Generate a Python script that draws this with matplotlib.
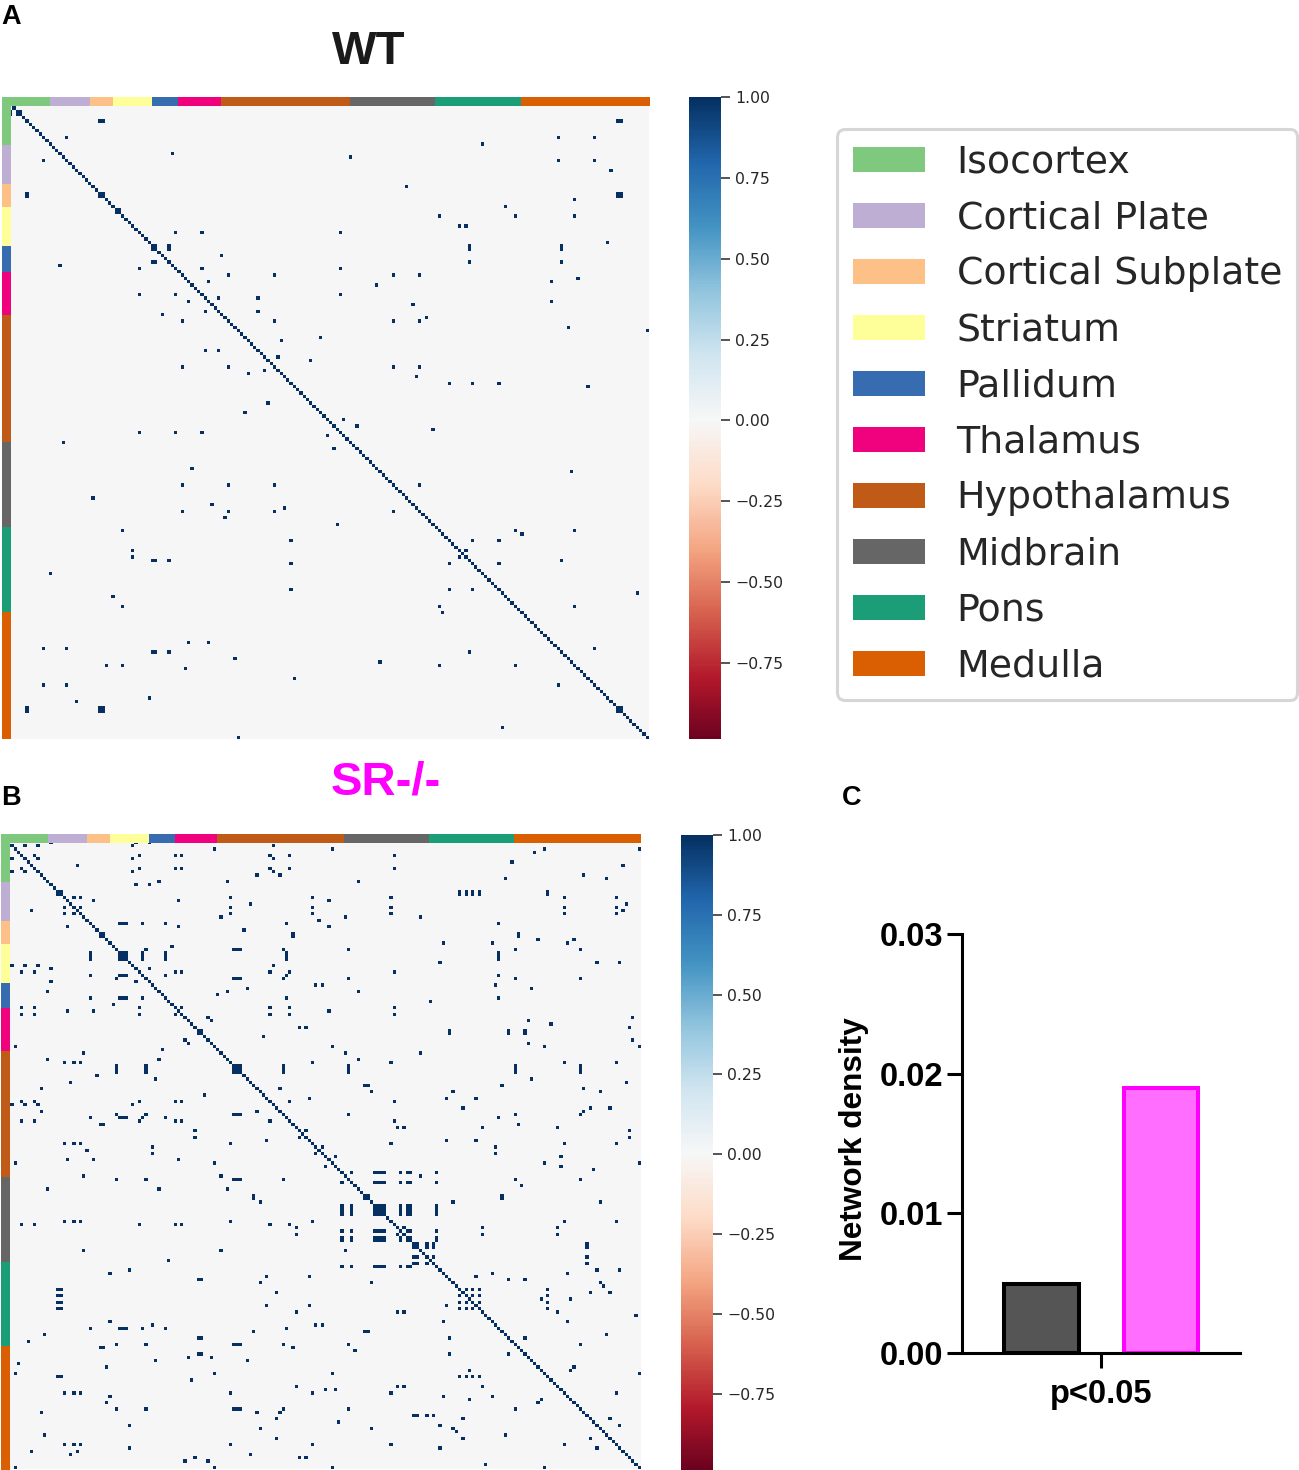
import matplotlib
matplotlib.use('Agg')
import matplotlib.pyplot as plt
import numpy as np
from matplotlib.patches import Patch
from matplotlib.cm import ScalarMappable
from matplotlib.colors import Normalize

W, H = 1299, 1470
N = 194

regions = ['Isocortex', 'Cortical Plate', 'Cortical Subplate', 'Striatum', 'Pallidum',
           'Thalamus', 'Hypothalamus', 'Midbrain', 'Pons', 'Medulla']
region_sizes = [12, 12, 7, 12, 8, 13, 39, 26, 26, 39]
region_colors = ['#7fc97f', '#beaed4', '#fdc086', '#ffff99', '#386cb0',
                 '#f0027f', '#bf5b17', '#666666', '#1b9e77', '#d95f02']

# significant correlations, every region in a group is linked to the others.
# numbering starts at -1 because the first row sits under the colour strip
wt_groups = [
    [-1, 1, 2], [4, 26, 27, 183, 184], [31, 32], [42, 43, 47, 138, 166],
    [9, 16, 165, 176], [14, 48], [38, 49, 57, 99], [11, 142], [15, 102], [19, 181],
    [24, 119], [33, 129, 152, 170], [28, 170], [30, 149], [36, 135, 137], [41, 180],
    [45, 63], [51, 65, 79, 115, 123], [53, 59, 163], [52, 171], [54, 110],
    [58, 62, 74], [60, 121], [64, 125], [67, 168], [68, 192], [70, 93], [71, 81],
    [76, 80], [77, 90], [82, 122], [84, 132, 139, 147], [85, 174], [95, 100],
    [97, 104], [98, 127], [111, 169], [130, 154], [148, 189],
]
sr_groups = [
    [0, 4, 8, 37, 80], [3, 7, 39, 50, 52, 79, 85, 117],
    [16, 19, 21, 67, 92, 116, 169, 185], [24, 33, 34, 35, 40, 47, 84, 149],
    [32, 41, 68, 69, 70, 83, 103, 154, 174], [14, 15, 137, 139, 141, 143, 164],
    [57, 58, 134, 152, 157], [27, 28, 86, 155], [74, 108, 109, 150],
    [101, 104, 111, 112, 113, 114, 119, 121, 122, 130], [123, 124, 127, 129, 176],
    [87, 118, 120, 144, 167], [6, 20, 187], [53, 60, 190], [54, 61, 158],
    [56, 88, 90, 189], [10, 151, 182], [9, 75, 82, 175], [1, 62, 98, 163, 192],
    [2, 160], [5, 153], [17, 25, 51, 97], [22, 64, 102, 125], [11, 45, 66, 106],
    [43, 93, 95, 148], [26, 71], [18, 73, 188], [78, 91, 133, 142],
    [30, 132, 147, 170], [29, 161, 172], [36, 131, 179, 186], [76, 110, 135, 180],
    [81, 138, 177, 183], [44, 72, 159], [55, 165], [59, 77], [46, 63], [31, 49],
    [-1, 12, 38, 42], [48, 128], [140, 162, 171], [136, 181], [23, 94], [105, 156],
    [96, 99, 168], [100, 178], [145, 191],
]

cbar_ticks = [1.0, 0.75, 0.5, 0.25, 0.0, -0.25, -0.5, -0.75]
cbar_labels = ['1.00', '0.75', '0.50', '0.25', '0.00', '\u22120.25', '\u22120.50', '\u22120.75']

density_values = [0.0049, 0.0190]
density_ticks = [0.0, 0.01, 0.02, 0.03]

fig = plt.figure(figsize=(W / 100, H / 100), dpi=100, facecolor='white')


def px_axes(left, top, right, bottom):
    return fig.add_axes([left / W, 1 - bottom / H, (right - left) / W, (bottom - top) / H])


def build_matrix(groups):
    m = np.zeros((N, N))
    for group in groups:
        idx = np.array(group) + 1
        m[np.ix_(idx, idx)] = 1
    np.fill_diagonal(m, 1)
    return m


def draw_strip(box, vertical):
    ax = px_axes(*box)
    start = np.concatenate([[0], np.cumsum(region_sizes)[:-1]])
    if vertical:
        ax.bar(0, region_sizes, 1, bottom=start, color=region_colors)
        ax.set_ylim(N, 0)
        ax.set_xlim(-0.5, 0.5)
    else:
        ax.barh(0, region_sizes, 1, left=start, color=region_colors)
        ax.set_xlim(0, N)
        ax.set_ylim(-0.5, 0.5)
    ax.axis('off')


def draw_heatmap(groups, heat_box, top_strip, left_strip, cbar_box, cbar_min):
    ax = px_axes(*heat_box)
    ax.imshow(build_matrix(groups), cmap='RdBu', vmin=-1, vmax=1, aspect='auto',
              interpolation='nearest')
    ax.axis('off')
    draw_strip(top_strip, False)
    draw_strip(left_strip, True)
    # corner above the left strip
    corner = px_axes(left_strip[0], top_strip[1], top_strip[0], top_strip[3])
    corner.set_facecolor(region_colors[0])
    corner.set_xticks([])
    corner.set_yticks([])
    for s in corner.spines.values():
        s.set_visible(False)

    cax = px_axes(*cbar_box)
    cb = fig.colorbar(ScalarMappable(Normalize(-1, 1), 'RdBu'), cax=cax)
    cb.outline.set_visible(False)
    cb.ax.set_ylim(cbar_min, 1)
    cb.set_ticks(cbar_ticks, labels=cbar_labels)
    cb.ax.tick_params(length=6.5, width=1.1, color='#262626', labelcolor='#262626',
                      labelsize=11.3, pad=3.5)


draw_heatmap(wt_groups, (9.06, 104.1, 648.3, 739.3), (10.5, 97, 649.5, 105.6),
             (2, 105.6, 11, 739.3), (689, 97, 721, 739), -0.985)
draw_heatmap(sr_groups, (7.1, 841.5, 640.2, 1468.7), (9, 834.3, 640.7, 843),
             (1, 843, 10.3, 1472.5), (681, 835, 713, 1472), -0.995)

fig.text(369 / W, 1 - 52 / H, 'WT', family='Liberation Sans', weight='bold', fontsize=34,
         color='#1a1a1a', ha='center', va='center')
fig.text(385.5 / W, 1 - 783 / H, 'SR-/-', family='Liberation Sans', weight='bold', fontsize=34,
         color='#ff00ff', ha='center', va='center')
for letter, x, y in [('A', 1, 17), ('B', 1, 798), ('C', 842, 798)]:
    fig.text(x / W, 1 - y / H, letter, family='Liberation Sans', weight='bold', fontsize=19.5,
             color='black', ha='left', va='center')

handles = [Patch(facecolor=c, edgecolor='none') for c in region_colors]
leg = fig.legend(handles, regions, loc='upper left', bbox_to_anchor=(837 / W, 1 - 129 / H),
                 borderaxespad=0, fontsize=27.25, handlelength=1.92, handleheight=0.64,
                 handletextpad=0.83, labelspacing=0.528, borderpad=0.41, frameon=True,
                 fancybox=True, edgecolor='#d6d6d6', framealpha=1, labelcolor='#262626')
leg.get_frame().set_linewidth(2.2)

axc = px_axes(962.3, 934.3, 1240, 1352.7)
axc.bar([0, 1], density_values, 0.62, color=['#555555', '#ff6eff'],
        edgecolor=['black', '#ff00ff'], linewidth=2.9)
axc.set_xlim(-0.663, 1.661)
axc.set_ylim(0, 0.03)
axc.spines['top'].set_visible(False)
axc.spines['right'].set_visible(False)
axc.spines['left'].set_linewidth(2.2)
axc.spines['bottom'].set_linewidth(2.2)
axc.set_yticks(density_ticks, labels=['0.00', '0.01', '0.02', '0.03'])
axc.set_xticks([0.5], labels=['p<0.05'])
axc.tick_params(length=10.8, width=2.2, pad=3)
axc.tick_params(axis='x', pad=8)
for t in axc.get_xticklabels() + axc.get_yticklabels():
    t.set_fontfamily('Liberation Sans')
    t.set_fontweight('bold')
    t.set_fontsize(23.5)
axc.set_ylabel('Network density', family='Liberation Sans', weight='bold', fontsize=22.7,
               labelpad=8, y=0.511)

fig.savefig('out.png', dpi=100)
